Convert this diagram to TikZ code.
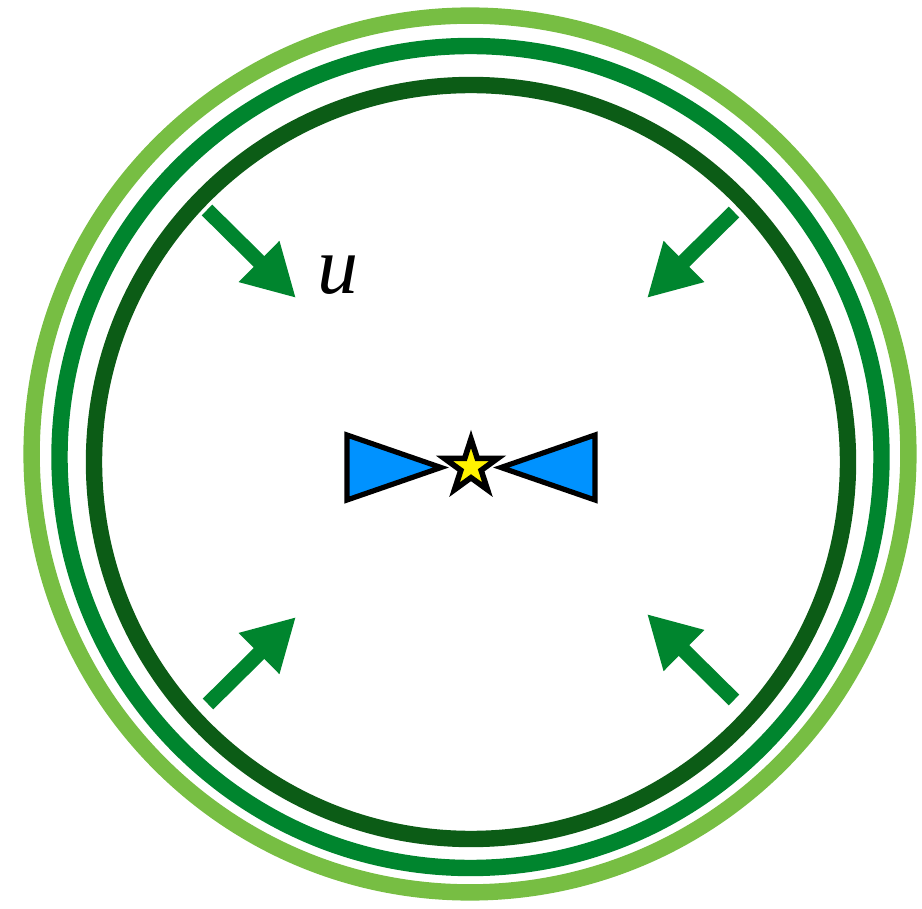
\documentclass[tikz,border=0pt]{standalone}
\usepackage{fontspec}
\usetikzlibrary{arrows.meta, shapes.geometric}

\newfontfamily\labelfont{Liberation Serif}

\definecolor{ringlight}{RGB}{119,190,67}
\definecolor{ringmid}{RGB}{0,133,46}
\definecolor{ringdark}{RGB}{12,92,22}
\definecolor{hornblue}{RGB}{0,146,255}

\begin{document}
\begin{tikzpicture}[
    x=0.25pt, y=-0.25pt,
    ring/.style={line width=4.1pt},
    flow/.style={-{Triangle[length=13pt, width=13.5pt]}, line width=3.75pt, draw=ringmid},
    horn/.style={draw=black, fill=hornblue, line width=1.3pt, line join=miter},
    src/.style={star, star points=5, star point ratio=2.618, minimum size=14pt,
                inner sep=0pt, draw=black, fill=yellow, line width=1.4pt},
]
\useasboundingbox (0,0) rectangle (922,909);

% rings
\draw[ring, ringlight] (470,454) circle[radius=109.6pt];
\draw[ring, ringmid] (470.5,457) circle[radius=102.75pt];
\draw[ring, ringdark] (471,462) circle[radius=94.25pt];

% source and the two horns
\node[src] (core) at (471,467) {};
\draw[horn] (347,435) -- (347,500) -- (441,467.5) -- cycle;
\draw[horn] (595,435) -- (595,500) -- (501,467.5) -- cycle;

% inward flow
\coordinate (nwS) at (207,210);
\coordinate (nwT) at (296,298);
\coordinate (neS) at (734,212);
\coordinate (neT) at (647,298);
\coordinate (swS) at (208,704);
\coordinate (swT) at (296,617);
\coordinate (seS) at (734,700);
\coordinate (seT) at (647,614);

\draw[flow] (nwS) -- (nwT);
\draw[flow] (neS) -- (neT);
\draw[flow] (swS) -- (swT);
\draw[flow] (seS) -- (seT);

\node[font=\labelfont\itshape\fontsize{20.5}{22}\selectfont] (vel) at (338,275) {u};

\end{tikzpicture}
\end{document}
